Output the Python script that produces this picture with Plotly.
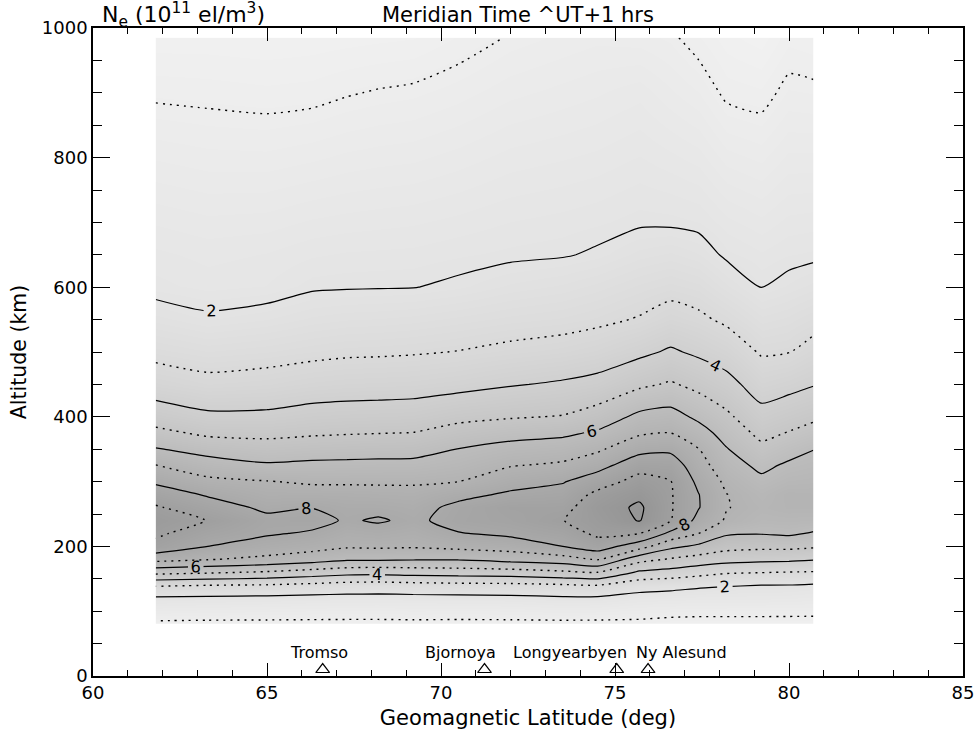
import numpy as np
import plotly.graph_objects as go

# ---------------- data ----------------
lat = [61.8, 63.3, 65.0, 66.3, 67.3, 68.2, 69.2, 70.5, 72.0, 73.5,
       74.5, 75.7, 76.6, 77.4, 78.2, 79.2, 80.0, 80.7]
alt = [80, 100, 120, 140, 160, 180, 200, 220, 240, 260, 280, 300, 325,
       350, 375, 400, 450, 500, 550, 600, 650, 700, 800, 900, 985]

# Ne (10^11 el/m^3) profiles, one per latitude column, bottom -> top
ne_61_8 = [0.87, 1.37, 1.87, 3.1, 5.3, 7.33, 8.73, 9.17, 9.4, 9.1, 8.54, 7.84, 7.03, 6.07, 5.26, 4.54, 3.47, 2.77, 2.26, 1.84, 1.72, 1.58, 1.27, 0.95, 0.7]
ne_63_3 = [0.85, 1.34, 1.83, 3.0, 5.13, 7.05, 8.0, 8.49, 8.98, 8.47, 7.9, 7.23, 6.45, 5.64, 4.82, 4.18, 3.23, 2.61, 2.09, 1.75, 1.66, 1.52, 1.22, 0.93, 0.7]
ne_65_0 = [0.85, 1.31, 1.79, 2.92, 4.89, 6.77, 7.57, 8.1, 8.25, 7.81, 7.42, 7.04, 6.12, 5.41, 4.77, 4.19, 3.32, 2.7, 2.2, 1.8, 1.7, 1.54, 1.21, 0.9, 0.68]
ne_66_3 = [0.85, 1.28, 1.74, 2.75, 4.6, 6.46, 7.35, 7.89, 8.3, 7.98, 7.42, 6.87, 6.21, 5.53, 4.88, 4.37, 3.48, 2.81, 2.34, 1.95, 1.78, 1.61, 1.26, 0.92, 0.7]
ne_67_3 = [0.85, 1.26, 1.73, 2.59, 4.37, 6.15, 7.11, 7.5, 7.9, 7.75, 7.4, 6.87, 6.23, 5.58, 4.94, 4.42, 3.55, 2.88, 2.4, 1.97, 1.81, 1.64, 1.31, 0.98, 0.72]
ne_68_2 = [0.85, 1.26, 1.72, 2.57, 4.3, 6.13, 7.15, 7.6, 8.1, 7.75, 7.35, 6.87, 6.26, 5.62, 4.98, 4.45, 3.58, 2.9, 2.42, 1.98, 1.82, 1.66, 1.34, 1.02, 0.74]
ne_69_2 = [0.85, 1.29, 1.74, 2.64, 4.42, 6.08, 7.1, 7.45, 7.8, 7.62, 7.3, 6.88, 6.27, 5.65, 5.02, 4.49, 3.61, 2.94, 2.46, 1.99, 1.83, 1.68, 1.36, 1.05, 0.76]
ne_70_5 = [0.85, 1.27, 1.76, 2.71, 4.5, 6.07, 7.27, 7.95, 8.35, 8.26, 7.71, 7.0, 6.5, 6.02, 5.38, 4.76, 3.73, 3.02, 2.55, 2.07, 1.88, 1.73, 1.43, 1.13, 0.88]
ne_72_0 = [0.85, 1.29, 1.78, 2.75, 4.58, 6.33, 7.44, 8.2, 8.56, 8.7, 8.16, 7.62, 6.95, 6.34, 5.66, 4.92, 3.94, 3.17, 2.66, 2.23, 1.93, 1.8, 1.53, 1.25, 1.02]
ne_73_5 = [0.85, 1.34, 1.87, 2.88, 4.82, 6.59, 8.0, 8.49, 8.98, 8.72, 8.34, 7.94, 7.16, 6.49, 5.82, 5.05, 4.11, 3.3, 2.74, 2.33, 1.97, 1.84, 1.58, 1.32, 1.1]
ne_74_5 = [0.85, 1.32, 1.86, 3.0, 5.0, 7.09, 8.5, 9.2, 9.4, 9.55, 9.25, 8.54, 7.65, 6.85, 6.13, 5.43, 4.29, 3.46, 2.85, 2.45, 2.05, 1.88, 1.62, 1.37, 1.15]
ne_75_7 = [0.85, 1.25, 1.69, 2.39, 3.84, 5.35, 7.43, 9.0, 10.05, 10.15, 9.81, 9.35, 8.62, 7.69, 6.87, 6.23, 4.82, 3.8, 3.05, 2.64, 2.25, 1.95, 1.7, 1.45, 1.12]
ne_76_6 = [0.77, 1.21, 1.65, 2.26, 3.64, 4.9, 6.24, 7.77, 9.03, 9.08, 9.08, 9.03, 8.56, 7.8, 7.0, 6.38, 5.1, 4.12, 3.33, 2.76, 2.33, 1.94, 1.62, 1.3, 1.05]
ne_77_4 = [0.75, 1.18, 1.61, 2.12, 3.36, 4.59, 5.8, 7.0, 7.7, 8.05, 8.03, 7.78, 7.4, 7.03, 6.41, 5.8, 4.73, 3.84, 3.15, 2.65, 2.21, 1.9, 1.54, 1.18, 0.88]
ne_78_2 = [0.75, 1.18, 1.6, 2.05, 3.1, 4.37, 5.32, 6.13, 6.9, 7.04, 7.02, 6.81, 6.43, 6.06, 5.63, 5.19, 4.32, 3.54, 2.86, 2.33, 1.93, 1.73, 1.33, 0.94, 0.7]
ne_79_2 = [0.75, 1.18, 1.6, 1.99, 3.03, 4.24, 5.23, 6.05, 6.5, 6.7, 6.55, 6.21, 5.78, 5.24, 4.75, 4.32, 3.56, 2.92, 2.45, 1.99, 1.81, 1.62, 1.25, 0.89, 0.6]
ne_80_0 = [0.75, 1.17, 1.58, 1.98, 2.97, 4.18, 5.24, 6.15, 6.55, 6.85, 6.9, 6.53, 6.15, 5.64, 5.05, 4.58, 3.73, 2.98, 2.55, 2.12, 1.89, 1.73, 1.41, 1.09, 0.83]
ne_80_7 = [0.75, 1.16, 1.53, 1.9, 2.94, 4.06, 5.12, 5.92, 6.5, 6.85, 6.85, 6.6, 6.3, 5.98, 5.37, 4.82, 3.95, 3.28, 2.73, 2.25, 1.92, 1.75, 1.41, 1.07, 0.78]

ne_profiles = [ne_61_8, ne_63_3, ne_65_0, ne_66_3, ne_67_3, ne_68_2, ne_69_2,
               ne_70_5, ne_72_0, ne_73_5, ne_74_5, ne_75_7, ne_76_6, ne_77_4,
               ne_78_2, ne_79_2, ne_80_0, ne_80_7]

station_names = ["Tromso", "Bjornoya", "Longyearbyen", "Ny Alesund"]
station_lat = [66.6, 71.25, 75.05, 75.95]
station_alt = [10, 10, 10, 10]
label_lat = [66.5, 70.55, 73.7, 76.9]
label_alt = [37, 37, 37, 37]

x_ticks = [60, 65, 70, 75, 80, 85]
y_ticks = [0, 200, 400, 600, 800, 1000]

# -----------------------------------------------------------------------
z = np.array(ne_profiles).T  # rows = altitude, cols = latitude
FONT = "DejaVu Sans"

fig = go.Figure()

# grey-shaded density field
fig.add_trace(go.Contour(
    x=lat, y=alt, z=z,
    zmin=0, zmax=11, zauto=False,
    colorscale=[[0, "rgb(247,247,247)"], [1, "rgb(140,140,140)"]],
    contours=dict(coloring="heatmap", showlines=False, start=1, end=10, size=1),
    line=dict(width=0), showscale=False, hoverinfo="skip",
))

# odd levels: dotted
fig.add_trace(go.Contour(
    x=lat, y=alt, z=z, showscale=False, hoverinfo="skip",
    contours=dict(coloring="none", start=1, end=9, size=2),
    line=dict(color="black", width=1.4, dash="2px,5px", smoothing=0.6),
))

# even levels 2..8: solid with labels
fig.add_trace(go.Contour(
    x=lat, y=alt, z=z, showscale=False, hoverinfo="skip",
    contours=dict(coloring="none", start=2, end=8, size=2, showlabels=True,
                  labelfont=dict(family=FONT, size=16, color="black")),
    line=dict(color="black", width=1.2, smoothing=0.6),
))

# level 10: solid, unlabeled
fig.add_trace(go.Contour(
    x=lat, y=alt, z=z, showscale=False, hoverinfo="skip",
    contours=dict(coloring="none", start=10, end=10, size=2),
    line=dict(color="black", width=1.2, smoothing=0.6),
))

# station markers
fig.add_trace(go.Scatter(
    x=station_lat, y=station_alt, mode="markers",
    marker=dict(symbol="triangle-up-open", size=12, color="black",
                line=dict(width=1.2, color="black")),
    hoverinfo="skip", showlegend=False,
))

annotations = []
for name, lx, ly in zip(station_names, label_lat, label_alt):
    annotations.append(dict(x=lx, y=ly, xref="x", yref="y", text=name,
                            showarrow=False, font=dict(family=FONT, size=16, color="black")))

top_y = 1 + (28 - 15) / 648.0
annotations.append(dict(x=0.008, y=top_y, xref="paper", yref="paper", xanchor="left", yanchor="middle",
                        text="N<sub>e</sub> (10<sup>11</sup> el/m<sup>3</sup>)", showarrow=False,
                        font=dict(family=FONT, size=22, color="black")))
annotations.append(dict(x=0.4885, y=top_y, xref="paper", yref="paper", xanchor="center", yanchor="middle",
                        text="Meridian Time ^UT+1 hrs", showarrow=False,
                        font=dict(family=FONT, size=21, color="black")))

axis_common = dict(showline=True, linecolor="black", linewidth=1.5, mirror="ticks",
                   ticks="inside", tickcolor="black", tickwidth=1.2, showgrid=False,
                   zeroline=False, automargin=False,
                   tickfont=dict(family=FONT, size=18, color="black"))

fig.update_layout(
    width=976, height=739,
    margin=dict(l=93, r=13, t=28, b=63),
    paper_bgcolor="white", plot_bgcolor="white",
    showlegend=False,
    annotations=annotations,
    xaxis=dict(range=[60, 85], tickvals=x_ticks, ticklen=13,
               minor=dict(dtick=1, ticklen=6, ticks="inside", tickcolor="black", tickwidth=1),
               title=dict(text="Geomagnetic Latitude (deg)", font=dict(family=FONT, size=21, color="black"),
                          standoff=8),
               **axis_common),
    yaxis=dict(range=[0, 1000], tickvals=y_ticks, ticklen=17,
               minor=dict(dtick=50, ticklen=9, ticks="inside", tickcolor="black", tickwidth=1),
               title=dict(text="Altitude (km)", font=dict(family=FONT, size=20.5, color="black"),
                          standoff=10),
               **axis_common),
)

fig.write_html("out.html",
               config={"displayModeBar": False},
               post_script="document.body.style.margin='0';document.body.style.padding='0';"
                           "document.body.style.overflow='hidden';")
